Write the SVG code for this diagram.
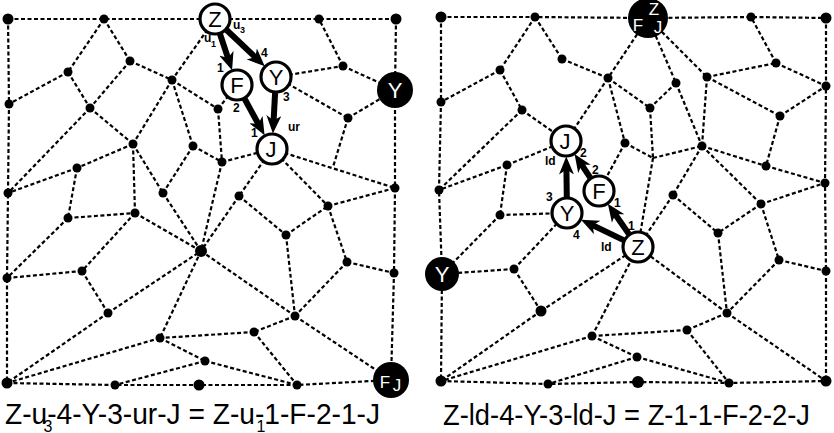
<svg xmlns="http://www.w3.org/2000/svg" width="834" height="433" viewBox="0 0 834 433">
<style>
.e{stroke:#000;stroke-width:2.2;stroke-dasharray:4 2.5;fill:none}
.a{stroke:#000;stroke-width:6;fill:none}
.d{fill:#000}
.w{fill:#fff;stroke:#000;stroke-width:3.2}
.b{fill:#000}
.t{font-family:"Liberation Sans",Arial,sans-serif;font-size:22px;text-anchor:middle;fill:#000}
.tw{font-family:"Liberation Sans",Arial,sans-serif;font-size:22px;text-anchor:middle;fill:#fff}
.tws{font-family:"Liberation Sans",Arial,sans-serif;font-size:17px;text-anchor:middle;fill:#fff}
.l{font-family:"Liberation Sans",Arial,sans-serif;font-size:12px;font-weight:bold;fill:#000}
.ls{font-family:"Liberation Sans",Arial,sans-serif;font-size:9px;font-weight:bold;fill:#000}
.c{font-family:"Liberation Sans",Arial,sans-serif;font-size:30px;fill:#000}
.cs{font-family:"Liberation Sans",Arial,sans-serif;font-size:16px;fill:#000;text-anchor:middle}
</style>
<defs>
<marker id="ah" markerWidth="19" markerHeight="15" refX="7" refY="7.5" orient="auto" markerUnits="userSpaceOnUse">
<path d="M0,0 L18,7.5 L0,15 L5,7.5 z" fill="#000"/>
</marker>
</defs>
<g id="connectors">
<path class="e" d="M8,19 L104,19 L215,19 L319,19 L396,19"/>
<path class="e" d="M8,19 L9,104 L8,193 L7,278 L7,383"/>
<path class="e" d="M396,19 L395,90 L395,188 L394,273 L391,380"/>
<path class="e" d="M7,383 L115,385 L199,385 L297,385 L391,380"/>
<path class="e" d="M104,19 L68,72 M104,19 L130,61 M68,72 L9,104 M68,72 L90,108 M130,61 L90,108 M130,61 L172,80 M90,108 L133,144 M90,108 L8,193"/>
<path class="e" d="M215,19 L172,80 M172,80 L218,109 M172,80 L193,146 M172,80 L133,144 M218,109 L237,85 M218,109 L222,162"/>
<path class="e" d="M276,77 L343,66 M343,66 L319,19 M343,66 L395,90 M276,77 L348,118 M348,118 L395,90 M348,118 L333,167 M272,149 L395,188"/>
<path class="e" d="M272,149 L328,206 M272,149 L239,196 M222,162 L272,149 M193,146 L222,162 M193,146 L163,193 M133,144 L163,193 M133,144 L77,168 M133,144 L135,213"/>
<path class="e" d="M222,162 L201,251 M239,196 L201,251 M239,196 L286,235 M163,193 L201,251 M77,168 L8,193 M77,168 L68,218 M68,218 L135,213 M68,218 L7,278"/>
<path class="e" d="M135,213 L201,251 M135,213 L82,271 M7,278 L82,271 M82,271 L108,313 M108,313 L201,251 M108,313 L7,383"/>
<path class="e" d="M201,251 L160,338 M201,251 L295,316 M286,235 L295,316 M286,235 L328,206 M328,206 L347,262 M328,206 L395,188 M347,262 L394,273 M347,262 L295,316"/>
<path class="e" d="M295,316 L254,332 M295,316 L391,380 M254,332 L160,338 M254,332 L297,385 M160,338 L205,361 M160,338 L7,383 M205,361 L115,385 M205,361 L297,385"/>
<path class="e" d="M441,17 L535,17 L648,18 L751,17 L826,18"/>
<path class="e" d="M441,17 L441,102 L439,190 L442,274 L441,381"/>
<path class="e" d="M826,18 L826,86 L825,183 L826,271 L826,381"/>
<path class="e" d="M441,381 L548,384 L638,382 L729,383 L826,381"/>
<path class="e" d="M535,17 L500,70 M535,17 L562,59 M500,70 L441,102 M500,70 L522,110 M522,110 L566,141 M522,110 L439,190 M562,59 L608,78"/>
<path class="e" d="M648,18 L608,78 M648,18 L676,83 M648,18 L707,77 M608,78 L566,141 M608,78 L650,108 M608,78 L625,143 M676,83 L650,108 M650,108 L653,158 M676,83 L702,146"/>
<path class="e" d="M707,77 L702,146 M707,77 L776,63 M707,77 L780,116 M776,63 L751,17 M776,63 L826,86 M780,116 L826,86 M780,116 L766,166 M702,146 L766,166 M766,166 L825,183"/>
<path class="e" d="M702,146 L761,204 M761,204 L825,183 M625,143 L653,158 M653,158 L702,146 M653,158 L638,247 M625,143 L599,191 M507,165 L566,141 M507,165 L439,190 M507,165 L500,215"/>
<path class="e" d="M702,146 L673,195 M673,195 L718,233 M673,195 L638,247 M761,204 L718,233 M761,204 L779,260 M718,233 L727,313 M779,260 L727,313 M779,260 L826,271"/>
<path class="e" d="M727,313 L638,247 M727,313 L687,330 M727,313 L826,381 M687,330 L592,336 M687,330 L729,383 M592,336 L638,247 M592,336 L637,357 M592,336 L441,381 M637,357 L548,384 M637,357 L729,383"/>
<path class="e" d="M541,311 L638,247 M541,311 L514,269 M541,311 L441,381 M514,269 L442,274 M514,269 L567,213 M500,215 L567,213 M500,215 L442,274"/>
<line class="a" x1="220" y1="34" x2="228.6" y2="59.9" marker-end="url(#ah)"/>
<line class="a" x1="226.6" y1="30" x2="256.8" y2="58.7" marker-end="url(#ah)"/>
<line class="a" x1="244.7" y1="99" x2="259.3" y2="125.7" marker-end="url(#ah)"/>
<line class="a" x1="275.1" y1="93" x2="273.5" y2="122.5" marker-end="url(#ah)"/>
<line class="a" x1="623.6" y1="240.1" x2="590.9" y2="224.4" marker-end="url(#ah)"/>
<line class="a" x1="628.8" y1="233.9" x2="614.1" y2="212.7" marker-end="url(#ah)"/>
<line class="a" x1="566.8" y1="197" x2="566.4" y2="167.5" marker-end="url(#ah)"/>
<line class="a" x1="590.2" y1="177.6" x2="580.6" y2="163.1" marker-end="url(#ah)"/>
</g>
<g id="dots">
<circle class="d" cx="8" cy="19" r="5.5"/><circle class="d" cx="104" cy="19" r="4.5"/><circle class="d" cx="319" cy="19" r="4.5"/><circle class="d" cx="396" cy="19" r="5.5"/>
<circle class="d" cx="9" cy="104" r="4.5"/><circle class="d" cx="68" cy="72" r="4.5"/><circle class="d" cx="130" cy="61" r="4.5"/><circle class="d" cx="90" cy="108" r="4.5"/>
<circle class="d" cx="172" cy="80" r="4.5"/><circle class="d" cx="218" cy="109" r="4.5"/><circle class="d" cx="343" cy="66" r="4.5"/><circle class="d" cx="348" cy="118" r="4.5"/>
<circle class="d" cx="133" cy="144" r="4.5"/><circle class="d" cx="193" cy="146" r="4.5"/><circle class="d" cx="222" cy="162" r="4.5"/><circle class="d" cx="77" cy="168" r="4.5"/>
<circle class="d" cx="8" cy="193" r="4.5"/><circle class="d" cx="163" cy="193" r="4.5"/><circle class="d" cx="239" cy="196" r="4.5"/><circle class="d" cx="395" cy="188" r="4.5"/>
<circle class="d" cx="328" cy="206" r="4.5"/><circle class="d" cx="68" cy="218" r="4.5"/><circle class="d" cx="135" cy="213" r="4.5"/><circle class="d" cx="201" cy="251" r="6"/>
<circle class="d" cx="286" cy="235" r="4.5"/><circle class="d" cx="347" cy="262" r="4.5"/><circle class="d" cx="394" cy="273" r="4.5"/><circle class="d" cx="7" cy="278" r="4.5"/>
<circle class="d" cx="82" cy="271" r="4.5"/><circle class="d" cx="108" cy="313" r="4.5"/><circle class="d" cx="295" cy="316" r="4.5"/><circle class="d" cx="254" cy="332" r="4.5"/>
<circle class="d" cx="160" cy="338" r="4.5"/><circle class="d" cx="205" cy="361" r="4.5"/><circle class="d" cx="7" cy="383" r="5.5"/><circle class="d" cx="115" cy="385" r="4.5"/>
<circle class="d" cx="199" cy="385" r="5.5"/><circle class="d" cx="297" cy="385" r="4.5"/>
<circle class="d" cx="441" cy="17" r="5.5"/><circle class="d" cx="535" cy="17" r="4.5"/><circle class="d" cx="751" cy="17" r="4.5"/><circle class="d" cx="826" cy="18" r="5.5"/>
<circle class="d" cx="441" cy="102" r="4.5"/><circle class="d" cx="500" cy="70" r="4.5"/><circle class="d" cx="562" cy="59" r="4.5"/><circle class="d" cx="522" cy="110" r="4.5"/>
<circle class="d" cx="608" cy="78" r="4.5"/><circle class="d" cx="650" cy="108" r="4.5"/><circle class="d" cx="676" cy="83" r="4.5"/><circle class="d" cx="707" cy="77" r="4.5"/>
<circle class="d" cx="776" cy="63" r="4.5"/><circle class="d" cx="826" cy="86" r="4.5"/><circle class="d" cx="780" cy="116" r="4.5"/><circle class="d" cx="625" cy="143" r="4.5"/>
<circle class="d" cx="702" cy="146" r="4.5"/><circle class="d" cx="766" cy="166" r="4.5"/><circle class="d" cx="825" cy="183" r="4.5"/><circle class="d" cx="507" cy="165" r="4.5"/>
<circle class="d" cx="439" cy="190" r="4.5"/><circle class="d" cx="673" cy="195" r="4.5"/><circle class="d" cx="500" cy="215" r="4.5"/><circle class="d" cx="761" cy="204" r="4.5"/>
<circle class="d" cx="718" cy="233" r="4.5"/><circle class="d" cx="779" cy="260" r="4.5"/><circle class="d" cx="826" cy="271" r="4.5"/><circle class="d" cx="514" cy="269" r="4.5"/>
<circle class="d" cx="541" cy="311" r="5.5"/><circle class="d" cx="727" cy="313" r="4.5"/><circle class="d" cx="687" cy="330" r="4.5"/><circle class="d" cx="592" cy="336" r="4.5"/>
<circle class="d" cx="637" cy="357" r="4.5"/><circle class="d" cx="441" cy="381" r="5.5"/><circle class="d" cx="548" cy="384" r="4.5"/><circle class="d" cx="638" cy="382" r="6"/>
<circle class="d" cx="729" cy="383" r="4.5"/><circle class="d" cx="826" cy="381" r="5.5"/>
</g>
<g id="L-Z"><circle class="w" cx="215" cy="19" r="15"/><text class="t" x="215" y="27">Z</text></g>
<g id="L-F"><circle class="w" cx="237" cy="85" r="15"/><text class="t" x="237" y="93">F</text></g>
<g id="L-Y"><circle class="w" cx="276" cy="77" r="15"/><text class="t" x="276" y="85">Y</text></g>
<g id="L-J"><circle class="w" cx="272" cy="149" r="15"/><text class="t" x="271" y="157">J</text></g>
<g id="L-Yb"><circle class="b" cx="395" cy="90" r="18"/><text class="tw" x="395" y="98">Y</text></g>
<g id="L-FJ"><circle class="b" cx="391" cy="380" r="18"/><text class="tws" x="385" y="388">F</text><text class="tws" x="397" y="391">J</text></g>
<g id="R-J"><circle class="w" cx="566" cy="141" r="15"/><text class="t" x="565" y="149">J</text></g>
<g id="R-F"><circle class="w" cx="599" cy="191" r="15"/><text class="t" x="599" y="199">F</text></g>
<g id="R-Y"><circle class="w" cx="567" cy="213" r="15"/><text class="t" x="567" y="221">Y</text></g>
<g id="R-Z"><circle class="w" cx="638" cy="247" r="15"/><text class="t" x="638" y="255">Z</text></g>
<g id="R-FZJ"><circle class="b" cx="648" cy="18" r="20"/><text class="tws" x="654" y="15">Z</text><text class="tws" x="638" y="31">F</text><text class="tws" x="658" y="33">J</text></g>
<g id="R-Yb"><circle class="b" cx="442" cy="274" r="17"/><text class="tw" x="442" y="282">Y</text></g>
<g id="labels">
<text class="l" x="233" y="29">u</text><text class="ls" x="240" y="33">3</text>
<text class="l" x="204" y="42">u</text><text class="ls" x="211" y="47">1</text>
<text class="l" x="261" y="57">4</text>
<text class="l" x="217" y="72">1</text>
<text class="l" x="233" y="112">2</text>
<text class="l" x="283" y="101">3</text>
<text class="l" x="288" y="131">ur</text>
<text class="l" x="251" y="137">1</text>
<text class="l" x="580" y="157">2</text>
<text class="l" x="545" y="165">ld</text>
<text class="l" x="592" y="174">2</text>
<text class="l" x="546" y="201">3</text>
<text class="l" x="614" y="207">1</text>
<text class="l" x="628" y="230">1</text>
<text class="l" x="573" y="239">4</text>
<text class="l" x="601" y="251">ld</text>
</g>
<g id="captions">
<text class="c" x="5" y="424" textLength="375" lengthAdjust="spacingAndGlyphs">Z-u-4-Y-3-ur-J = Z-u-1-F-2-1-J</text>
<text class="cs" x="48" y="432">3</text>
<text class="cs" x="261" y="432">1</text>
<text class="c" x="443" y="425" textLength="367" lengthAdjust="spacingAndGlyphs">Z-ld-4-Y-3-ld-J = Z-1-1-F-2-2-J</text>
</g>
</svg>
